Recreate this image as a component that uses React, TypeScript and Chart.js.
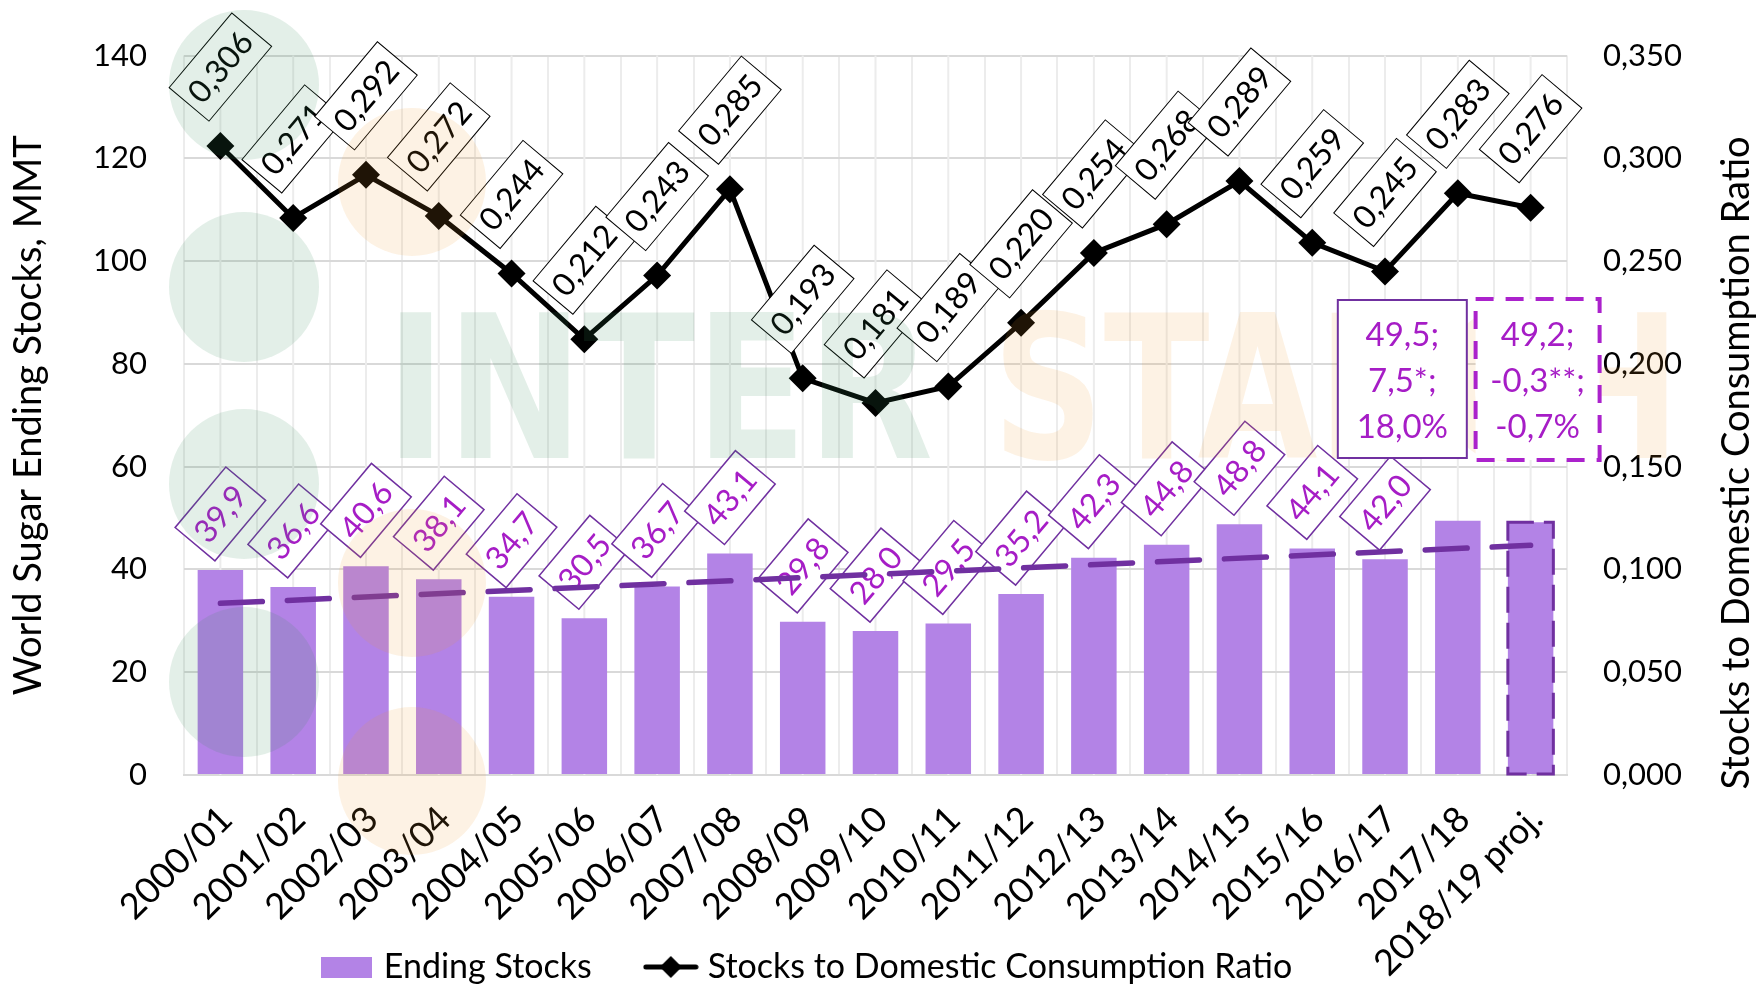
import React, { useEffect, useRef } from 'react';
import { Chart, registerables } from 'chart.js';

Chart.register(...registerables);

// ---------------- data ----------------
const categories = [
  '2000/01', '2001/02', '2002/03', '2003/04', '2004/05', '2005/06', '2006/07',
  '2007/08', '2008/09', '2009/10', '2010/11', '2011/12', '2012/13', '2013/14',
  '2014/15', '2015/16', '2016/17', '2017/18', '2018/19 proj.',
];
const endingStocks = [
  39.9, 36.6, 40.6, 38.1, 34.7, 30.5, 36.7, 43.1, 29.8, 28.0,
  29.5, 35.2, 42.3, 44.8, 48.8, 44.1, 42.0, 49.5, 49.2,
];
const stocksRatio = [
  0.306, 0.271, 0.292, 0.272, 0.244, 0.212, 0.243, 0.285, 0.193, 0.181,
  0.189, 0.220, 0.254, 0.268, 0.289, 0.259, 0.245, 0.283, 0.276,
];
// linear trend of ending stocks, read at the first and the last season
const trendValues = [33.4, 44.7];
const leftAxis = [0, 140, 20];
const rightAxis = [0, 0.35, 0.05];
const note2017 = ['49,5;', '7,5*;', '18,0%'];
const note2018 = ['49,2;', '-0,3**;', '-0,7%'];
const seriesNames = ['Ending Stocks', 'Stocks to Domestic Consumption Ratio'];
const axisTitles = ['World Sugar Ending Stocks, MMT', 'Stocks to Domestic Consumption Ratio'];
const watermarkWords = ['INTER', 'STARCH'];

// ---------------- styling ----------------
const W = 1761;
const H = 987;
const PLOT_LEFT = 184;
const PLOT_RIGHT = 1567;
const PLOT_TOP = 54;
const PLOT_BOTTOM = 775;
const FONT = 'Lato';
const BAR_COLOR = '#b383e6';
const DARK_PURPLE = '#7030a0';
const LABEL_PURPLE = '#a61dc6';
const DASH_MAGENTA = '#ab22cc';
const GRID_H = '#d9d9d9';
const GRID_V = '#ececec';
const LEGEND_FONT = 34;
const LEGEND_PAD = 59;
const LEGEND_TEXT_Y = 967;
const LEGEND_RIGHT = 1619;
const DL_FONT = 32;
const DL_ANGLE = (-50 * Math.PI) / 180;

const comma = (v: number, d: number) => v.toFixed(d).replace('.', ',');

function drawRotLabel(
  ctx: CanvasRenderingContext2D, cx: number, cy: number, text: string,
  color: string, border: string, borderW: number,
) {
  ctx.save();
  ctx.translate(cx, cy);
  ctx.rotate(DL_ANGLE);
  ctx.font = `${DL_FONT}px ${FONT}`;
  const tw = ctx.measureText(text).width;
  const bw = tw + 16;
  const bh = 52;
  ctx.fillStyle = '#ffffff';
  ctx.fillRect(-bw / 2, -bh / 2, bw, bh);
  ctx.strokeStyle = border;
  ctx.lineWidth = borderW;
  ctx.strokeRect(-bw / 2, -bh / 2, bw, bh);
  ctx.fillStyle = color;
  ctx.textAlign = 'center';
  ctx.textBaseline = 'middle';
  ctx.fillText(text, 0, 1);
  ctx.restore();
}

function drawWord(ctx: CanvasRenderingContext2D, text: string, left: number, right: number, baseline: number, color: string) {
  ctx.save();
  ctx.font = `bold 200px "DejaVu Sans"`;
  const m = ctx.measureText(text);
  const ink = m.actualBoundingBoxLeft + m.actualBoundingBoxRight;
  const sx = (right - left) / ink;
  ctx.translate(left + m.actualBoundingBoxLeft * sx, baseline);
  ctx.scale(sx, 1);
  ctx.fillStyle = color;
  ctx.textAlign = 'left';
  ctx.textBaseline = 'alphabetic';
  ctx.fillText(text, 0, 0);
  ctx.restore();
}

const overlayPlugin = {
  id: 'overlay',
  afterLayout(chart: any) {
    const lg = chart.legend;
    if (lg) {
      const h = lg.height;
      lg.top = LEGEND_TEXT_Y - LEGEND_PAD - LEGEND_FONT / 2;
      lg.bottom = lg.top + h;
      lg.left = 0;
      lg.right = LEGEND_RIGHT;
    }
    const xs = chart.scales.x;
    if (xs) xs.bottom = H;
  },
  beforeDatasetsDraw(chart: any) {
    const ctx = chart.ctx as CanvasRenderingContext2D;
    const xs = chart.scales.x;
    const { top, bottom } = chart.chartArea;
    ctx.save();
    ctx.strokeStyle = GRID_V;
    ctx.lineWidth = 2;
    categories.forEach((_, i) => {
      const px = xs.getPixelForValue(i);
      ctx.beginPath();
      ctx.moveTo(px, top);
      ctx.lineTo(px, bottom);
      ctx.stroke();
    });
    ctx.restore();
  },
  afterDatasetDraw(chart: any, args: any) {
    const ctx = chart.ctx as CanvasRenderingContext2D;
    if (args.index === 0) {
      const meta = chart.getDatasetMeta(0);
      meta.data.forEach((el: any, i: number) => {
        if (i >= 17) return;
        drawRotLabel(ctx, el.x, el.y - 56, comma(endingStocks[i], 1), LABEL_PURPLE, DARK_PURPLE, 1.5);
      });
      const last = meta.data[meta.data.length - 1];
      const p = last.getProps(['x', 'y', 'base', 'width'], true);
      ctx.save();
      ctx.strokeStyle = DARK_PURPLE;
      ctx.lineWidth = 3;
      ctx.setLineDash([26, 10]);
      ctx.strokeRect(p.x - p.width / 2, p.y, p.width, p.base - p.y);
      ctx.restore();
    }
    if (args.index === 2) {
      const meta = chart.getDatasetMeta(2);
      meta.data.forEach((el: any, i: number) => {
        drawRotLabel(ctx, el.x, el.y - 79, comma(stocksRatio[i], 3), '#000000', '#000000', 1);
      });
    }
  },
  afterDatasetsDraw(chart: any) {
    const ctx = chart.ctx as CanvasRenderingContext2D;
    const green = 'rgba(56,142,92,0.14)';
    const orange = 'rgba(242,158,48,0.13)';
    ctx.save();
    ctx.fillStyle = green;
    [85, 287, 484, 682].forEach((cy) => {
      ctx.beginPath();
      ctx.arc(244, cy, 75, 0, Math.PI * 2);
      ctx.fill();
    });
    ctx.fillStyle = orange;
    [182, 583, 781].forEach((cy) => {
      ctx.beginPath();
      ctx.arc(412, cy, 74, 0, Math.PI * 2);
      ctx.fill();
    });
    ctx.restore();
    drawWord(ctx, watermarkWords[0], 400, 930, 458, green);
    drawWord(ctx, watermarkWords[1], 1003, 1667, 458, orange);
  },
  afterDraw(chart: any) {
    const ctx = chart.ctx as CanvasRenderingContext2D;
    const xs = chart.scales.x;
    const x17 = xs.getPixelForValue(17);
    const x18 = xs.getPixelForValue(18);
    ctx.save();
    const b1 = { l: x17 - 120, r: x17 + 9, t: 300, b: 458 };
    ctx.fillStyle = '#ffffff';
    ctx.fillRect(b1.l, b1.t, b1.r - b1.l, b1.b - b1.t);
    ctx.strokeStyle = DARK_PURPLE;
    ctx.lineWidth = 2;
    ctx.strokeRect(b1.l, b1.t, b1.r - b1.l, b1.b - b1.t);
    const b2 = { l: x18 - 55, r: x18 + 69, t: 299, b: 460 };
    ctx.fillRect(b2.l, b2.t, b2.r - b2.l, b2.b - b2.t);
    ctx.strokeStyle = DASH_MAGENTA;
    ctx.lineWidth = 4;
    ctx.setLineDash([18, 12]);
    ctx.strokeRect(b2.l, b2.t, b2.r - b2.l, b2.b - b2.t);
    ctx.setLineDash([]);
    ctx.fillStyle = LABEL_PURPLE;
    ctx.font = `33px ${FONT}`;
    ctx.textAlign = 'center';
    ctx.textBaseline = 'middle';
    const lineY = [335, 381, 427];
    note2017.forEach((t, i) => ctx.fillText(t, (b1.l + b1.r) / 2, lineY[i]));
    note2018.forEach((t, i) => ctx.fillText(t, (b2.l + b2.r) / 2, lineY[i]));
    ctx.translate(1737, 463);
    ctx.rotate(-Math.PI / 2);
    ctx.fillStyle = '#000000';
    ctx.font = `38px ${FONT}`;
    ctx.fillText(axisTitles[1], 0, 0);
    ctx.restore();
  },
};

export default function App() {
  const ref = useRef<HTMLCanvasElement>(null);

  useEffect(() => {
    const canvas = ref.current;
    if (!canvas) return;

    const barSwatch = document.createElement('canvas');
    barSwatch.width = 51;
    barSwatch.height = 21;
    const g1 = barSwatch.getContext('2d')!;
    g1.fillStyle = BAR_COLOR;
    g1.fillRect(0, 0, 51, 21);

    const lineSwatch = document.createElement('canvas');
    lineSwatch.width = 56;
    lineSwatch.height = 28;
    const g2 = lineSwatch.getContext('2d')!;
    g2.strokeStyle = '#000';
    g2.lineWidth = 5;
    g2.lineCap = 'round';
    g2.beginPath();
    g2.moveTo(3, 14);
    g2.lineTo(53, 14);
    g2.stroke();
    g2.fillStyle = '#000';
    g2.beginPath();
    g2.moveTo(28 - 11, 14);
    g2.lineTo(28, 3);
    g2.lineTo(28 + 11, 14);
    g2.lineTo(28, 25);
    g2.closePath();
    g2.fill();

    const chart = new Chart(canvas, {
      type: 'bar',
      data: {
        labels: categories,
        datasets: [
          {
            type: 'bar',
            label: seriesNames[0],
            data: endingStocks,
            backgroundColor: BAR_COLOR,
            borderWidth: 0,
            barPercentage: 0.625,
            categoryPercentage: 1,
            yAxisID: 'y',
            order: 3,
          } as any,
          {
            type: 'line',
            label: 'trend',
            data: [
              { x: categories[0], y: trendValues[0] },
              { x: categories[categories.length - 1], y: trendValues[1] },
            ],
            borderColor: DARK_PURPLE,
            borderWidth: 5.5,
            borderDash: [42, 25],
            borderCapStyle: 'round',
            pointRadius: 0,
            fill: false,
            yAxisID: 'y',
            order: 2,
          } as any,
          {
            type: 'line',
            label: seriesNames[1],
            data: stocksRatio,
            borderColor: '#000000',
            borderWidth: 5,
            pointStyle: 'rectRot',
            pointRadius: 14,
            pointBackgroundColor: '#000000',
            pointBorderWidth: 0,
            tension: 0,
            fill: false,
            yAxisID: 'y1',
            order: 1,
          } as any,
        ],
      },
      options: {
        responsive: false,
        animation: false,
        events: [],
        layout: { padding: { top: PLOT_TOP, left: 0, right: 0, bottom: 0 } },
        plugins: {
          tooltip: { enabled: false },
          title: { display: false },
          legend: {
            display: true,
            position: 'bottom',
            labels: {
              usePointStyle: true,
              pointStyleWidth: 40,
              boxHeight: 21,
              padding: LEGEND_PAD,
              color: '#000000',
              font: { family: FONT, size: LEGEND_FONT },
              generateLabels: () => [
                {
                  text: seriesNames[0], pointStyle: barSwatch as any, fillStyle: BAR_COLOR,
                  strokeStyle: BAR_COLOR, lineWidth: 0, hidden: false, datasetIndex: 0,
                },
                {
                  text: seriesNames[1], pointStyle: lineSwatch as any, fillStyle: '#000',
                  strokeStyle: '#000', lineWidth: 0, hidden: false, datasetIndex: 2,
                },
              ] as any,
            },
          },
        },
        scales: {
          x: {
            type: 'category',
            offset: true,
            grid: { display: true, offset: true, color: GRID_V, lineWidth: 2, drawTicks: false },
            border: { display: true, color: GRID_H, width: 2 },
            ticks: {
              autoSkip: false,
              minRotation: 45,
              maxRotation: 45,
              padding: 23,
              labelOffset: 6,
              color: '#000000',
              font: { family: FONT, size: 36 },
            },
            afterFit: (scale: any) => {
              const lg = scale.chart.legend;
              scale.height = H - PLOT_BOTTOM - (lg ? lg.height : 0);
            },
          },
          y: {
            type: 'linear',
            position: 'left',
            min: leftAxis[0],
            max: leftAxis[1],
            grid: { color: GRID_H, lineWidth: 2, drawTicks: false },
            border: { display: false },
            ticks: {
              stepSize: leftAxis[2],
              padding: 37,
              color: '#000000',
              font: { family: FONT, size: 31 },
              callback: (v: any) => String(v),
            },
            title: {
              display: true,
              text: axisTitles[0],
              color: '#000000',
              font: { family: FONT, size: 38 },
              padding: { top: 6, bottom: 0 },
            },
            afterFit: (scale: any) => {
              scale.width = PLOT_LEFT;
            },
          },
          y1: {
            type: 'linear',
            position: 'right',
            min: rightAxis[0],
            max: rightAxis[1],
            grid: { drawOnChartArea: false, drawTicks: false },
            border: { display: false },
            ticks: {
              stepSize: rightAxis[2],
              padding: 36,
              color: '#000000',
              font: { family: FONT, size: 31 },
              callback: (v: any) => comma(Number(v), 3),
            },
            afterFit: (scale: any) => {
              scale.width = W - PLOT_RIGHT;
            },
          },
        },
      } as any,
      plugins: [overlayPlugin],
    });

    return () => chart.destroy();
  }, []);

  return (
    <div style={{ position: 'fixed', left: 0, top: 0, width: W, height: H, background: '#ffffff' }}>
      <canvas ref={ref} width={W} height={H} style={{ display: 'block', width: W, height: H }} />
    </div>
  );
}
